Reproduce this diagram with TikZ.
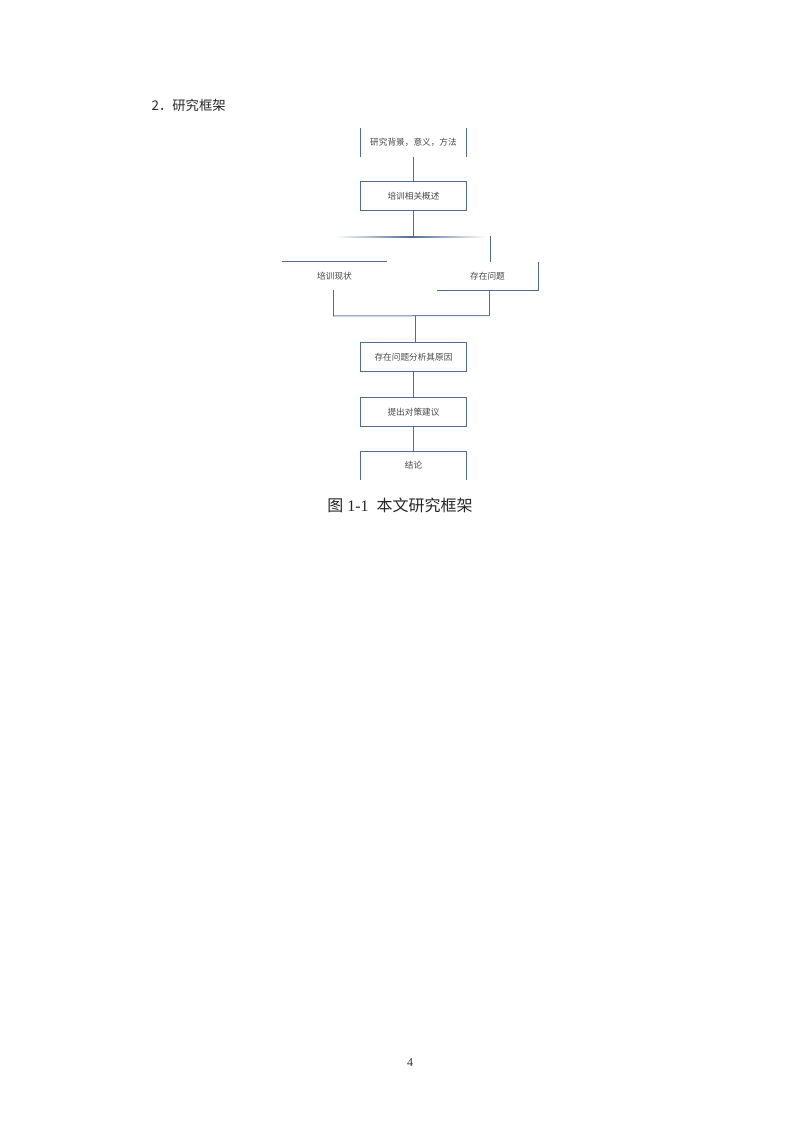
\documentclass[tikz,border=0pt]{standalone}
\usepackage{fontspec}
\setmainfont{Liberation Serif}
\newfontfamily\cjk{Noto Sans CJK SC}
\definecolor{lineblue}{RGB}{80,108,150}
\definecolor{txtgray}{RGB}{70,70,70}
\begin{document}
\begin{tikzpicture}[x=0.7507pt,y=-0.7507pt]
\tikzset{box/.style={minimum width=78.8pt,minimum height=21pt,inner sep=0pt,text=txtgray,font=\cjk\fontsize{6.5}{8}\selectfont},
conn/.style={draw=lineblue,line width=0.75pt}}
\useasboundingbox (0,0) rectangle (793,1122);
\node[anchor=west,font=\cjk\fontsize{10}{12}\selectfont,text=black!85] (0) at (147,105) {2．研究框架};

\node[box] (1) at (413.5,142.5) {研究背景，意义，方法};
\node[box] (2) at (413.5,196) {培训相关概述};
\node[box] (3) at (334.5,276) {培训现状};
\node[box,minimum width=75.8pt] (4) at (487.5,276) {存在问题};
\node[box] (5) at (413.5,357) {存在问题分析其原因};
\node[box] (6) at (413.5,412) {提出对策建议};
\node[box] (7) at (413.5,465.5) {结论};

\coordinate (a) at (413.5,237);
\coordinate (b) at (490.7,236);
\coordinate (c) at (490.7,262);
\coordinate (d) at (333,316);
\coordinate (e) at (489,315.5);
\coordinate (f) at (415.5,316);

% partial box borders
\path[conn] (1.north west) -- (1.south west);
\path[conn] (1.north east) -- (1.south east);
\path[conn] (2.north west) rectangle (2.south east);
\path[conn] (3.north west) -- (3.north east);
\path[conn] (4.north east) -- (4.south east) -- (4.south west);
\path[conn] (5.north west) rectangle (5.south east);
\path[conn] (6.north west) rectangle (6.south east);
\path[conn] (7.south west) -- (7.north west) -- (7.north east) -- (7.south east);

% connectors
\path[conn] (1.south) -- (2.north);
\path[conn] (2.south) -- (a);
\shade[left color=white,right color=white,middle color=lineblue] (335,236.6) rectangle (487,237.6);
\path[conn] (b) -- (c);
\path[conn] (d |- 3.south) -- (d);
\path[conn] (e |- 4.south) -- (e);
\path[conn,draw=lineblue!85] (d) -- (e);
\path[conn] (f) -- (f |- 5.north);
\path[conn] (5.south) -- (6.north);
\path[conn] (6.south) -- (7.north);

\node[font=\fontsize{12}{14}\selectfont,text=black!85] (8) at (400,505.5) {{\cjk 图} 1-1\ \ {\cjk 本文研究框架}};
\node[font=\fontsize{9}{10}\selectfont,text=black!80] (9) at (410,1063) {4};
\end{tikzpicture}
\end{document}
